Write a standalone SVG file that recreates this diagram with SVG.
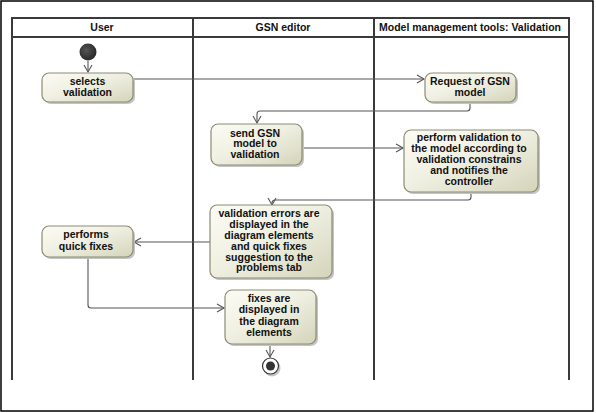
<svg xmlns="http://www.w3.org/2000/svg" width="596" height="413" viewBox="0 0 596 413">
<defs>
<linearGradient id="g" x1="0" y1="0" x2="1" y2="1">
<stop offset="0" stop-color="#fcfcf5"/>
<stop offset="0.5" stop-color="#eeeee0"/>
<stop offset="1" stop-color="#d4d4ba"/>
</linearGradient>
<marker id="arr" markerWidth="10" markerHeight="10" refX="8" refY="5" orient="auto" markerUnits="userSpaceOnUse">
<path d="M1,1 L8,5 L1,9" fill="none" stroke="#555" stroke-width="1.1"/>
</marker>
<radialGradient id="sg" cx="0.4" cy="0.4" r="0.7">
<stop offset="0" stop-color="#555"/>
<stop offset="1" stop-color="#222"/>
</radialGradient>
</defs>
<style>
.lane{fill:none;stroke:#3a3a3a;stroke-width:2}
.hd{font-family:"Liberation Sans",Arial,sans-serif;font-weight:bold;font-size:10.5px;fill:#111;text-anchor:middle}
.nt{font-family:"Liberation Sans",Arial,sans-serif;font-weight:bold;font-size:10.5px;fill:#111;text-anchor:middle}
.box{fill:url(#g);stroke:#8c8c74;stroke-width:1.2}
.sh{fill:#c4c4c4}
.c{fill:none;stroke:#555;stroke-width:1.1}
</style>
<rect x="0" y="0" width="596" height="413" fill="#fff"/>
<rect x="1" y="1" width="592" height="410" fill="none" stroke="#000" stroke-width="1.5"/>
<g id="lanes">
<path class="lane" d="M12,380 V18 H569 V380 M12,37 H569 M193,18 V380 M374,18 V380"/>
<text class="hd" x="102" y="31">User</text>
<text class="hd" x="283" y="31">GSN editor</text>
<text class="hd" x="470" y="31">Model management tools: Validation</text>
</g>
<g id="connectors">
<path class="c" d="M88,61 V72" marker-end="url(#arr)"/>
<path class="c" d="M133,79 H424" marker-end="url(#arr)"/>
<path class="c" d="M470,102 V108 Q470,111 467,111 H260 Q257,111 257,114 V123" marker-end="url(#arr)"/>
<path class="c" d="M302,148 H403" marker-end="url(#arr)"/>
<path class="c" d="M471,192 V197 Q471,200 468,200 H275 Q272,200 272,203 V205" marker-end="url(#arr)"/>
<path class="c" d="M210,242 H134" marker-end="url(#arr)"/>
<path class="c" d="M88,257 V305 Q88,308 91,308 H224" marker-end="url(#arr)"/>
<path class="c" d="M270,344 V357" marker-end="url(#arr)"/>
</g>
<g id="start"><circle cx="88" cy="52" r="8.5" fill="url(#sg)"/></g>
<g id="n1">
<rect class="sh" x="44" y="75" width="91" height="29" rx="7"/>
<rect class="box" x="42" y="73" width="91" height="29" rx="7"/>
<text class="nt" x="87.5" y="85">selects</text>
<text class="nt" x="87.5" y="96">validation</text>
</g>
<g id="n2">
<rect class="sh" x="427" y="75" width="91" height="29" rx="7"/>
<rect class="box" x="425" y="73" width="91" height="29" rx="7"/>
<text class="nt" x="470" y="85">Request of GSN</text>
<text class="nt" x="470" y="96">model</text>
</g>
<g id="n3">
<rect class="sh" x="213" y="126" width="91" height="41" rx="7"/>
<rect class="box" x="211" y="124" width="91" height="41" rx="7"/>
<text class="nt" x="255" y="136.5">send GSN</text>
<text class="nt" x="255" y="147">model to</text>
<text class="nt" x="255" y="157.5">validation</text>
</g>
<g id="n4">
<rect class="sh" x="406" y="132" width="134" height="62" rx="7"/>
<rect class="box" x="404" y="130" width="134" height="62" rx="7"/>
<text class="nt" x="469" y="140.5">perform validation to</text>
<text class="nt" x="469" y="151.5">the model according to</text>
<text class="nt" x="469" y="162.5">validation constrains</text>
<text class="nt" x="469" y="173.5">and notifies the</text>
<text class="nt" x="469" y="184.5">controller</text>
</g>
<g id="n5">
<rect class="sh" x="212" y="207" width="122" height="73" rx="7"/>
<rect class="box" x="210" y="205" width="122" height="73" rx="7"/>
<text class="nt" x="269" y="217">validation errors are</text>
<text class="nt" x="269" y="228">displayed in the</text>
<text class="nt" x="269" y="239">diagram elements</text>
<text class="nt" x="269" y="250">and quick fixes</text>
<text class="nt" x="269" y="260.5">suggestion to the</text>
<text class="nt" x="269" y="271">problems tab</text>
</g>
<g id="n6">
<rect class="sh" x="44" y="228" width="91" height="31" rx="7"/>
<rect class="box" x="42" y="226" width="91" height="31" rx="7"/>
<text class="nt" x="86" y="238">performs</text>
<text class="nt" x="86" y="249.5">quick fixes</text>
</g>
<g id="n7">
<rect class="sh" x="227" y="292" width="91" height="54" rx="7"/>
<rect class="box" x="225" y="290" width="91" height="54" rx="7"/>
<text class="nt" x="269" y="302">fixes are</text>
<text class="nt" x="269" y="313">displayed in</text>
<text class="nt" x="269" y="324.5">the diagram</text>
<text class="nt" x="269" y="335.5">elements</text>
</g>
<g id="end">
<circle cx="272" cy="368" r="8.5" fill="#c4c4c4"/>
<circle cx="270.5" cy="366" r="8" fill="#fff" stroke="#333" stroke-width="1.2"/>
<circle cx="270.5" cy="366" r="4.5" fill="#333"/>
</g>
</svg>
